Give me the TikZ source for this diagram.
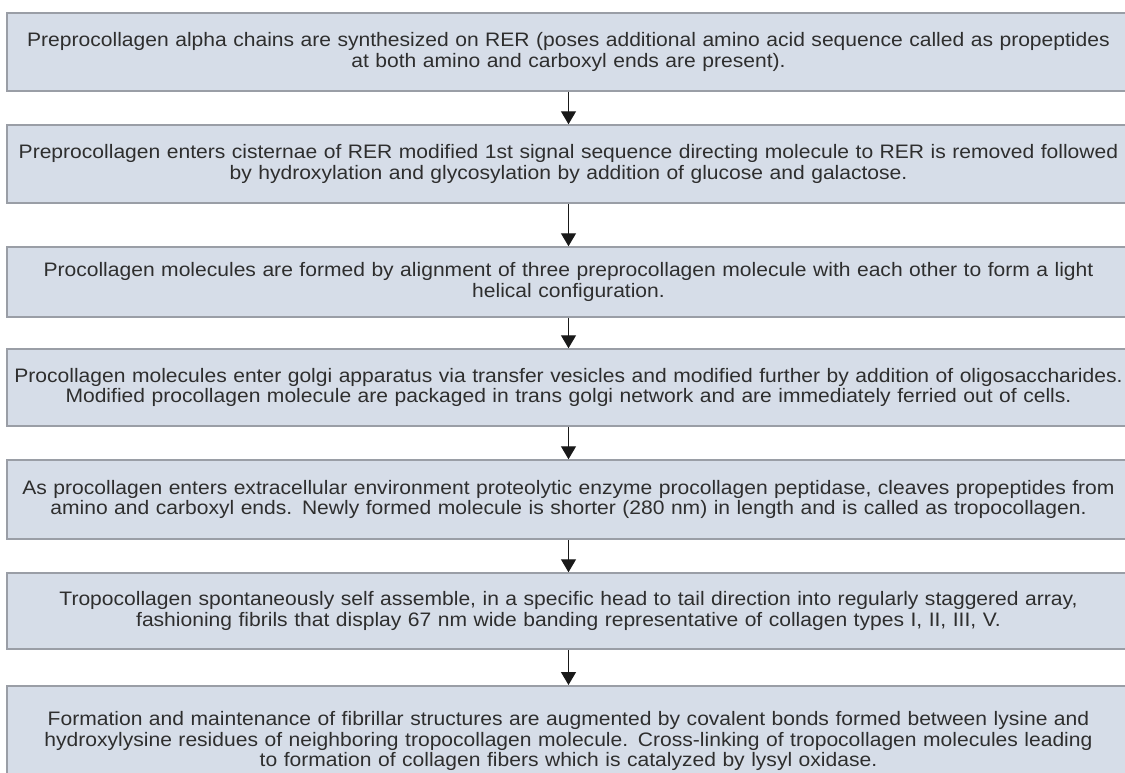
\documentclass[tikz,border=0pt]{standalone}
\usepackage{fontspec}
\setmainfont{Liberation Sans}[FakeStretch=1.08]
\usetikzlibrary{arrows.meta}
\definecolor{boxfill}{HTML}{D6DDE8}
\definecolor{boxline}{HTML}{9A9EA6}
\definecolor{textgray}{HTML}{2E2E2E}
\tikzset{
  stepbox/.style={draw=boxline, line width=1.5pt, fill=boxfill, text=textgray,
    minimum width=1123pt, text width=1118pt, align=center, inner sep=0pt,
    font=\fontsize{19.5}{20.3}\selectfont},
  flow/.style={-{Triangle[width=15pt,length=13pt]}, line width=1.3pt, draw=black!90}
}
\begin{document}
\begin{tikzpicture}[x=1pt,y=-1pt]
    \useasboundingbox (0,0) rectangle (1125,772);
    % Steps
    \node[stepbox, minimum height=78pt] (synth) at (568.5,52) {Preprocollagen alpha chains are synthesized on RER (poses additional amino acid sequence called as propeptides\\ at both amino and carboxyl ends are present).};
    \node[stepbox, minimum height=78pt] (cister) at (568.5,164) {Preprocollagen enters cisternae of RER modified 1st signal sequence directing molecule to RER is removed followed\\ by hydroxylation and glycosylation by addition of glucose and galactose.};
    \node[stepbox, minimum height=70pt] (helix) at (568.5,282) {Procollagen molecules are formed by alignment of three preprocollagen molecule with each other to form a light\\ helical configuration.};
    \node[stepbox, minimum height=77pt] (golgi) at (568.5,387.5) {Procollagen molecules enter golgi apparatus via transfer vesicles and modified further by addition of oligosaccharides.\\ Modified procollagen molecule are packaged in trans golgi network and are immediately ferried out of cells.};
    \node[stepbox, minimum height=79pt] (cleave) at (568.5,499.5) {As procollagen enters extracellular environment proteolytic enzyme procollagen peptidase, cleaves propeptides from\\ amino and carboxyl ends. Newly formed molecule is shorter (280 nm) in length and is called as tropocollagen.};
    \node[stepbox, minimum height=76pt] (fibril) at (568.5,611) {Tropocollagen spontaneously self assemble, in a specific head to tail direction into regularly staggered array,\\ fashioning fibrils that display 67 nm wide banding representative of collagen types I, II, III, V.};
    \node[stepbox, anchor=north, minimum height=110pt, text depth=44pt] (cross) at (568.5,685) {Formation and maintenance of fibrillar structures are augmented by covalent bonds formed between lysine and\\ hydroxylysine residues of neighboring tropocollagen molecule. Cross-linking of tropocollagen molecules leading\\ to formation of collagen fibers which is catalyzed by lysyl oxidase.};

    % Arrows between steps
    \draw[flow] (synth) -- (cister);
    \draw[flow] (cister) -- (helix);
    \draw[flow] (helix) -- (golgi);
    \draw[flow] (golgi) -- (cleave);
    \draw[flow] (cleave) -- (fibril);
    \draw[flow] (fibril) -- (cross);
\end{tikzpicture}
\end{document}
